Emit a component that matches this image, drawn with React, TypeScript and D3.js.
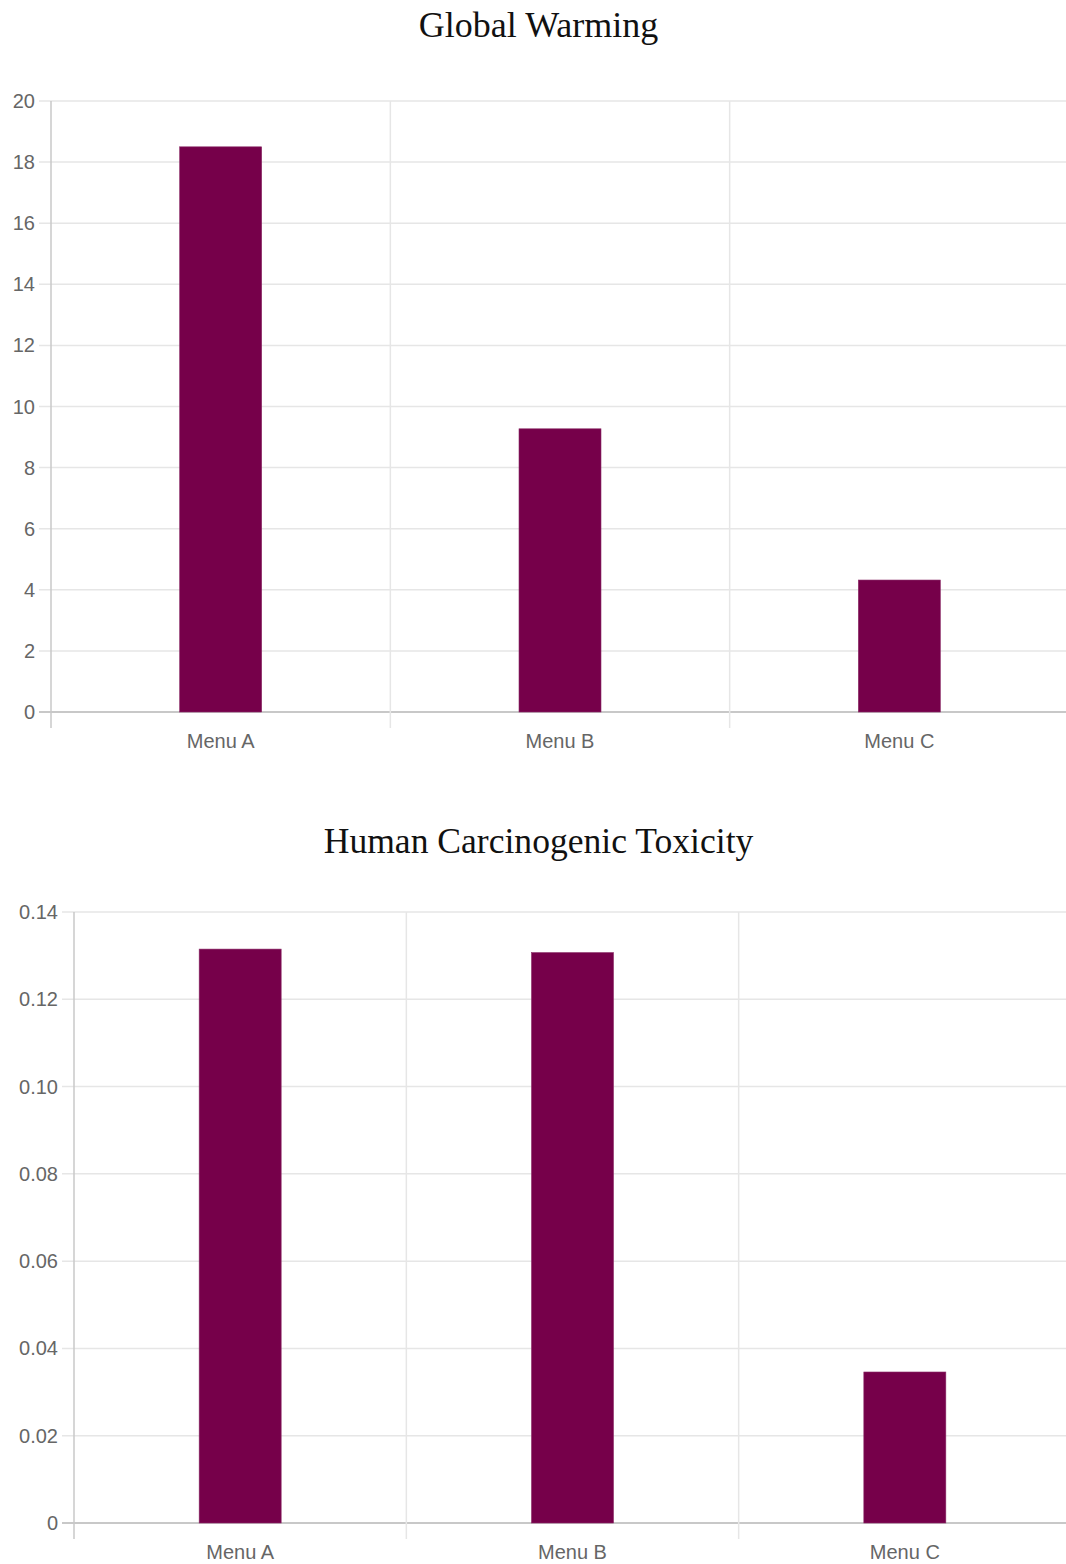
import React from "react";
import * as d3 from "d3";

const categories = ["Menu A", "Menu B", "Menu C"];
const globalWarmingValues = [18.5, 9.27, 4.32];
const globalWarmingTicks = [0, 2, 4, 6, 8, 10, 12, 14, 16, 18, 20];
const toxicityValues = [0.1315, 0.1307, 0.0346];
const toxicityTicks = [0, 0.02, 0.04, 0.06, 0.08, 0.1, 0.12, 0.14];

const W = 1066;
const H = 1564;
const BAR = "#76004a";
const GRID = "#e6e6e6";
const AXIS = "#c8c8c8";
const TXT = "#666";
const LABEL_FONT = "'Liberation Sans', Arial, Helvetica, sans-serif";
const TITLE_FONT = "'Liberation Serif', 'Times New Roman', serif";

type PanelProps = {
  title: string;
  titleY: number;
  titleSize: number;
  values: number[];
  ticks: number[];
  yMax: number;
  left: number;
  right: number;
  top: number;
  bottom: number;
  fmt: (d: number) => string;
};

function Panel({ title, titleY, titleSize, values, ticks, yMax, left, right, top, bottom, fmt }: PanelProps) {
  const x = d3.scaleBand<string>().domain(categories).range([left, right]).paddingInner(0).paddingOuter(0);
  const y = d3.scaleLinear().domain([0, yMax]).range([bottom, top]);
  const barW = 82;
  const bounds = [left, ...categories.slice(1).map((c) => x(c) as number)];
  return (
    <g>
      <text x={538.5} y={titleY} textAnchor="middle" fontFamily={TITLE_FONT} fontSize={titleSize} fill="#111">
        {title}
      </text>
      {ticks.map((t) => (
        <g key={"y" + t}>
          <line x1={left - 12} x2={W} y1={y(t)} y2={y(t)} stroke={t === 0 ? AXIS : GRID} strokeWidth={t === 0 ? 2 : 1.5} />
          <text x={left - 16} y={y(t)} dy="0.35em" textAnchor="end" fontFamily={LABEL_FONT} fontSize={20} fill={TXT}>
            {fmt(t)}
          </text>
        </g>
      ))}
      {bounds.map((b, i) => (
        <line key={"v" + i} x1={b} x2={b} y1={top} y2={bottom + 16} stroke={i === 0 ? AXIS : GRID} strokeWidth={1.5} />
      ))}
      {categories.map((c, i) => {
        const cx = (x(c) as number) + x.bandwidth() / 2;
        return (
          <g key={c}>
            <rect x={cx - barW / 2} y={y(values[i])} width={barW} height={bottom - y(values[i])} fill={BAR} stroke="#8a2a66" strokeWidth={0.6} />
            <text x={cx} y={bottom + 36} textAnchor="middle" fontFamily={LABEL_FONT} fontSize={20} fill={TXT}>
              {c}
            </text>
          </g>
        );
      })}
    </g>
  );
}

export default function App() {
  return (
    <svg width={W} height={H} style={{ position: "absolute", left: 0, top: 0, background: "#fff" }}>
      <rect width={W} height={H} fill="#fff" />
      <Panel
        title="Global Warming"
        titleY={37}
        titleSize={36}
        values={globalWarmingValues}
        ticks={globalWarmingTicks}
        yMax={20}
        left={51}
        right={1069}
        top={101}
        bottom={712}
        fmt={(d) => String(d)}
      />
      <Panel
        title="Human Carcinogenic Toxicity"
        titleY={853}
        titleSize={35.6}
        values={toxicityValues}
        ticks={toxicityTicks}
        yMax={0.14}
        left={74}
        right={1071}
        top={912}
        bottom={1523}
        fmt={(d) => (d === 0 ? "0" : d.toFixed(2))}
      />
    </svg>
  );
}
